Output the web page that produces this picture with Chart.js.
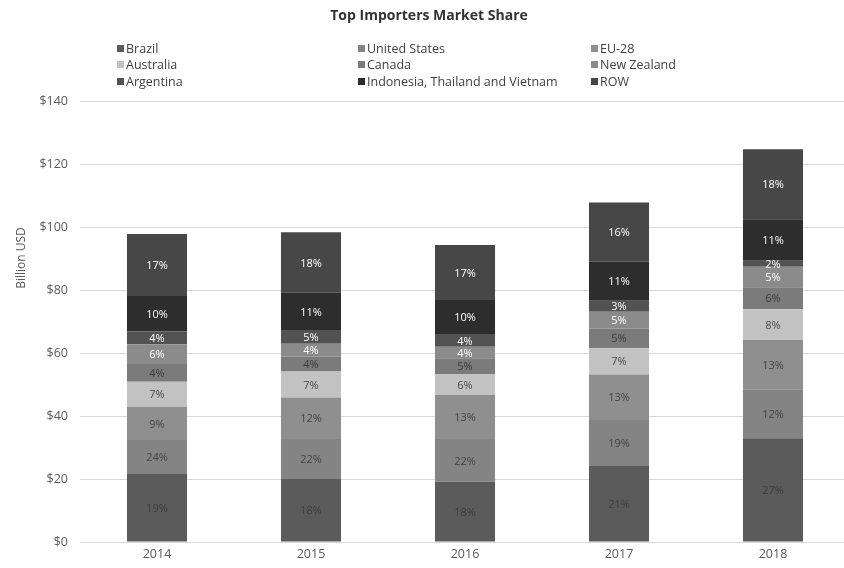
<!DOCTYPE html>
<html>
<head>
<meta charset="utf-8">
<script src="https://cdn.jsdelivr.net/npm/chart.js@4.4.1/dist/chart.umd.min.js"></script>
<style>
html, body { margin: 0; padding: 0; background: #fff; overflow: hidden; }
#wrap { width: 852px; height: 568px; }
</style>
</head>
<body>
<div id="wrap"><canvas id="myChart" width="852" height="568"></canvas></div>
<script>
// values in billion USD
const years = ['2014', '2015', '2016', '2017', '2018'];
const brazil = [21.6, 20.0, 19.1, 24.1, 32.9];
const unitedStates = [10.8, 12.7, 13.6, 14.6, 15.6];
const eu28 = [10.5, 13.2, 14.0, 14.5, 15.6];
const australia = [8.0, 8.2, 6.6, 8.3, 9.8];
const canada = [5.6, 4.7, 5.0, 6.3, 7.0];
const newZealand = [6.3, 4.1, 3.7, 5.3, 6.5];
const argentina = [4.0, 4.4, 4.0, 3.5, 1.9];
const indoThaiViet = [11.3, 11.8, 10.8, 12.4, 13.2];
const restOfWorld = [19.7, 19.2, 17.5, 18.8, 22.2];

// market share labels printed on the segments
const brazilPct = [19, 18, 18, 21, 27];
const unitedStatesPct = [24, 22, 22, 19, 12];
const eu28Pct = [9, 12, 13, 13, 13];
const australiaPct = [7, 7, 6, 7, 8];
const canadaPct = [4, 4, 5, 5, 6];
const newZealandPct = [6, 4, 4, 5, 5];
const argentinaPct = [4, 5, 4, 3, 2];
const indoThaiVietPct = [10, 11, 10, 11, 11];
const restOfWorldPct = [17, 18, 17, 16, 18];

const yTicks = [0, 20, 40, 60, 80, 100, 120, 140];

const FONT = "'Open Sans', 'DejaVu Sans', sans-serif";

function makeSet(label, data, pct, color, textColor){
    return {
        label: label,
        data: data,
        pct: pct,
        textColor: textColor,
        backgroundColor: color,
        borderWidth: 0,
        barPercentage: 0.39,
        categoryPercentage: 1
    };
}

const datasets = [
    makeSet('Brazil', brazil, brazilPct, '#5b5b5b', '#3c3c3c'),
    makeSet('United States', unitedStates, unitedStatesPct, '#848484', '#444'),
    makeSet('EU-28', eu28, eu28Pct, '#8f8f8f', '#444'),
    makeSet('Australia', australia, australiaPct, '#c2c2c2', '#4a4a4a'),
    makeSet('Canada', canada, canadaPct, '#7b7b7b', '#3c3c3c'),
    makeSet('New Zealand', newZealand, newZealandPct, '#8b8b8b', '#fff'),
    makeSet('Argentina', argentina, argentinaPct, '#525252', '#fff'),
    makeSet('Indonesia, Thailand and Vietnam', indoThaiViet, indoThaiVietPct, '#2d2d2d', '#fff'),
    makeSet('ROW', restOfWorld, restOfWorldPct, '#474747', '#fff')
];

// title, 3-column legend, y title and the % labels
const decorPlugin = {
    id: 'decor',
    afterDatasetsDraw(chart){
        const ctx = chart.ctx;
        ctx.save();
        ctx.textAlign = 'center';
        ctx.textBaseline = 'middle';
        ctx.font = '11px ' + FONT;
        chart.data.datasets.forEach((ds, i) => {
            const meta = chart.getDatasetMeta(i);
            meta.data.forEach((bar, j) => {
                const y = (bar.y + bar.base) / 2;
                ctx.fillStyle = ds.textColor;
                ctx.fillText(ds.pct[j] + '%', bar.x, y + 1);
            });
        });
        ctx.restore();
    },
    afterDraw(chart){
        const ctx = chart.ctx;
        ctx.save();
        ctx.fillStyle = '#333';
        ctx.font = 'bold 14px ' + FONT;
        ctx.textAlign = 'center';
        ctx.textBaseline = 'middle';
        ctx.fillText('Top Importers Market Share', 429, 16);

        const colX = [117, 358, 591];
        const rowY = [48, 64, 81];
        ctx.font = '12.5px ' + FONT;
        ctx.textAlign = 'left';
        chart.data.datasets.forEach((ds, i) => {
            const x = colX[i % 3];
            const y = rowY[Math.floor(i / 3)];
            ctx.fillStyle = ds.backgroundColor;
            ctx.fillRect(x, y - 3, 7, 7);
            ctx.fillStyle = '#404040';
            ctx.fillText(ds.label, x + 9, y + 1);
        });

        ctx.translate(22, 258);
        ctx.rotate(-Math.PI / 2);
        ctx.textAlign = 'center';
        ctx.fillStyle = '#595959';
        ctx.font = '12px ' + FONT;
        ctx.fillText('Billion USD', 0, 0);
        ctx.restore();
    }
};

const config = {
    type: 'bar',
    data: { labels: years, datasets: datasets },
    options: {
        responsive: false,
        animation: false,
        layout: { padding: { top: 101, right: 2, left: 0, bottom: 0 } },
        plugins: {
            legend: { display: false },
            title: { display: false },
            tooltip: { enabled: false }
        },
        scales: {
            x: {
                stacked: true,
                grid: { display: false, drawTicks: false },
                border: { display: true, color: '#d9d9d9' },
                ticks: { color: '#595959', font: { family: FONT, size: 12.5 }, padding: 5 },
                afterFit(scale){ scale.height = 26; }
            },
            y: {
                stacked: true,
                min: 0,
                max: 140,
                afterBuildTicks(scale){ scale.ticks = yTicks.map(v => ({ value: v })); },
                grid: { color: '#d9d9d9', drawTicks: false },
                border: { display: false },
                ticks: {
                    color: '#595959',
                    font: { family: FONT, size: 12.5 },
                    padding: 12,
                    callback: v => '$' + v
                },
                afterFit(scale){ scale.width = 80; }
            }
        }
    },
    plugins: [decorPlugin]
};

new Chart(document.getElementById('myChart').getContext('2d'), config);
</script>
</body>
</html>
